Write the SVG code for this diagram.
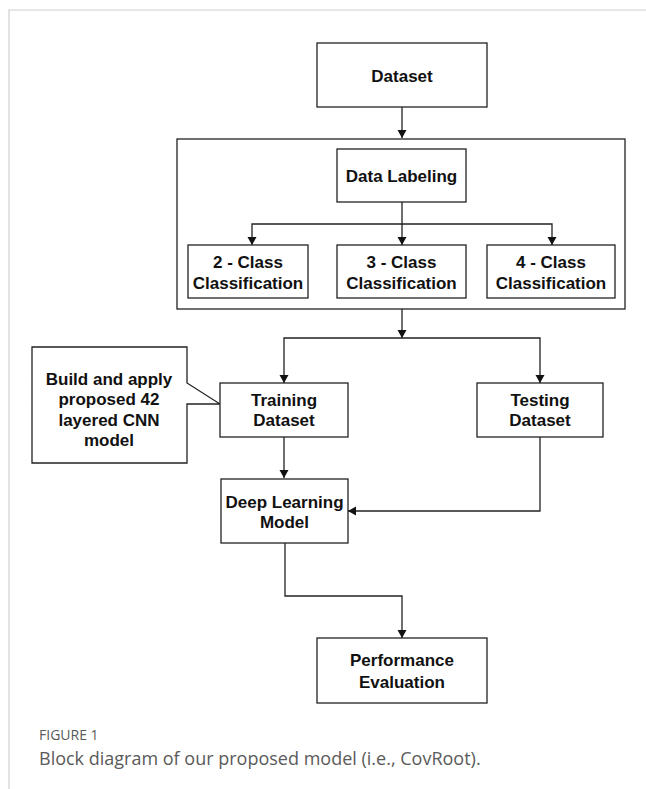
<svg xmlns="http://www.w3.org/2000/svg" width="646" height="789" viewBox="0 0 646 789">
<style>
.box{fill:#fff;stroke:#222;stroke-width:1.3}
.grp{fill:none;stroke:#222;stroke-width:1.3}
.t{font-family:"Liberation Sans",Arial,sans-serif;font-weight:bold;font-size:17px;fill:#111;text-anchor:middle}
.c{fill:none;stroke:#222;stroke-width:1.3}
.cap{font-family:"Open Sans","Noto Sans",sans-serif;fill:#5a5a5a}
</style>
<defs>
<marker id="ah" markerWidth="10" markerHeight="10" refX="8" refY="4.5" orient="auto" markerUnits="userSpaceOnUse">
<path d="M0,0 L8,4.5 L0,9 z" fill="#111"/>
</marker>
</defs>
<rect x="0" y="0" width="646" height="789" fill="#fff"/>
<path d="M9,789 V10 H646" fill="none" stroke="#d0d0d0" stroke-width="1.2"/>
<g id="labeling-group">
<rect class="grp" x="177" y="139" width="448" height="170"/>
</g>
<g id="connectors">
<path class="c" d="M402,107 V138" marker-end="url(#ah)"/>
<path class="c" d="M402,202 V224 H252 V245" marker-end="url(#ah)"/>
<path class="c" d="M402,224 V245" marker-end="url(#ah)"/>
<path class="c" d="M402,224 H552 V245" marker-end="url(#ah)"/>
<path class="c" d="M402,309 V338" marker-end="url(#ah)"/>
<path class="c" d="M402,338 H284 V383" marker-end="url(#ah)"/>
<path class="c" d="M402,338 H540 V383" marker-end="url(#ah)"/>
<path class="c" d="M284,437 V478" marker-end="url(#ah)"/>
<path class="c" d="M540,437 V511 H348" marker-end="url(#ah)"/>
<path class="c" d="M285,543 V596 H402 V638" marker-end="url(#ah)"/>
</g>
<g id="dataset">
<rect class="box" x="317" y="43" width="170" height="64"/>
<text class="t" x="402" y="82">Dataset</text>
</g>
<g id="data-labeling">
<rect class="box" x="337" y="149" width="129" height="53"/>
<text class="t" x="401.5" y="182">Data Labeling</text>
</g>
<g id="class2">
<rect class="box" x="188" y="245" width="120" height="53"/>
<text class="t" x="248" y="268">2 - Class</text>
<text class="t" x="248" y="289">Classification</text>
</g>
<g id="class3">
<rect class="box" x="337" y="245" width="129" height="53"/>
<text class="t" x="401.5" y="268">3 - Class</text>
<text class="t" x="401.5" y="289">Classification</text>
</g>
<g id="class4">
<rect class="box" x="487" y="245" width="128" height="53"/>
<text class="t" x="551" y="268">4 - Class</text>
<text class="t" x="551" y="289">Classification</text>
</g>
<g id="callout">
<path class="box" d="M32,347 H187 V383 L220,404 H187 V463 H32 Z"/>
<text class="t" x="109" y="385">Build and apply</text>
<text class="t" x="109" y="405">proposed 42</text>
<text class="t" x="109" y="426">layered CNN</text>
<text class="t" x="109" y="446">model</text>
</g>
<g id="training">
<rect class="box" x="220" y="383" width="128" height="54"/>
<text class="t" x="284" y="406">Training</text>
<text class="t" x="284" y="426">Dataset</text>
</g>
<g id="testing">
<rect class="box" x="477" y="383" width="126" height="54"/>
<text class="t" x="540" y="406">Testing</text>
<text class="t" x="540" y="426">Dataset</text>
</g>
<g id="deep-learning">
<rect class="box" x="221" y="479" width="127" height="64"/>
<text class="t" x="284.5" y="508">Deep Learning</text>
<text class="t" x="284.5" y="528">Model</text>
</g>
<g id="performance">
<rect class="box" x="317" y="638" width="170" height="65"/>
<text class="t" x="402" y="666">Performance</text>
<text class="t" x="402" y="688">Evaluation</text>
</g>
<text class="cap" x="39" y="740" font-size="14">FIGURE 1</text>
<text class="cap" x="39" y="765" font-size="18">Block diagram of our proposed model (i.e., CovRoot).</text>
</svg>
